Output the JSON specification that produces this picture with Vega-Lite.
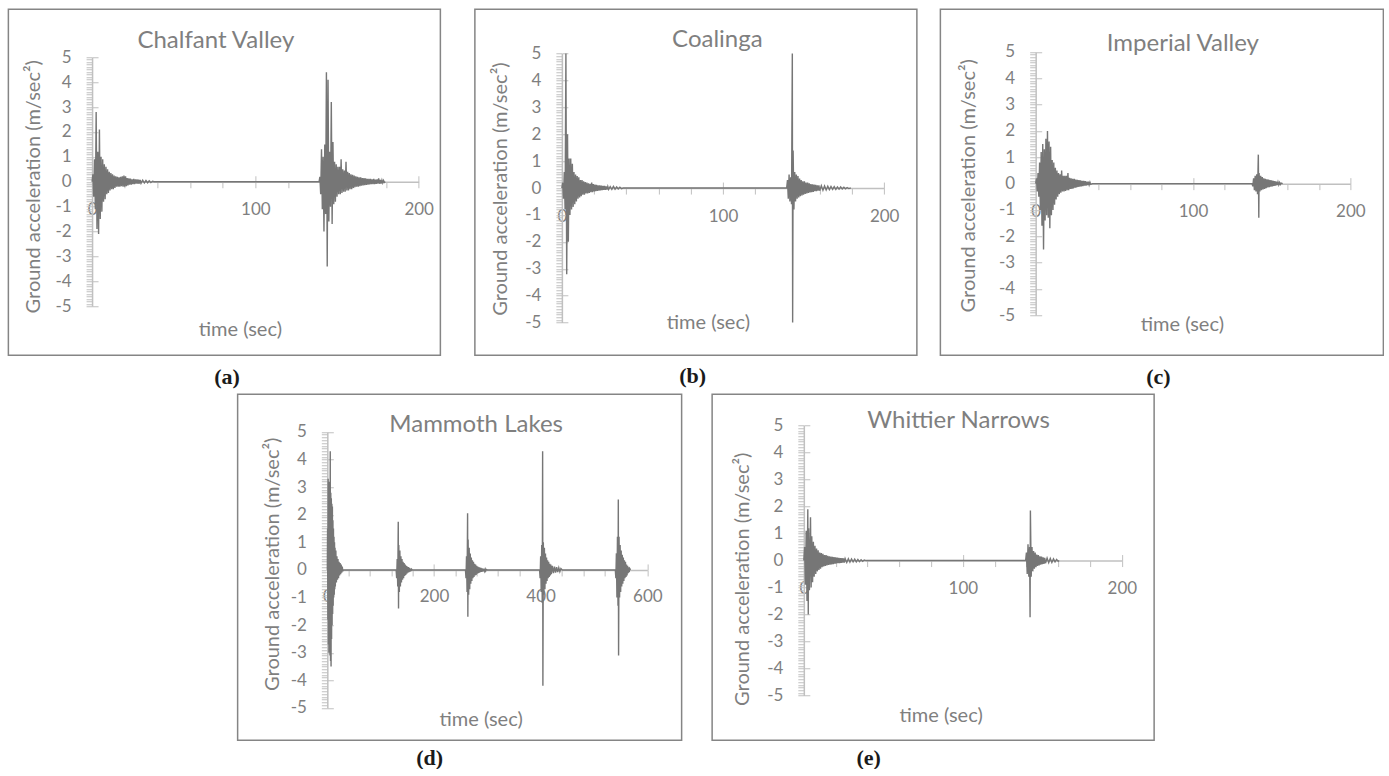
{
"$schema": "https://vega.github.io/schema/vega-lite/v6.json",
"background": "white",
"padding": {"left": 7.25, "top": 8.25, "right": 0, "bottom": 0},
"config": {
  "view": {"stroke": "#858585", "strokeWidth": 1.5},
  "title": {"font": "Lato", "fontSize": 24, "fontWeight": "normal", "color": "#7f7f7f", "baseline": "middle"},
  "axis": {"grid": false, "labelFont": "Lato", "labelFontSize": 17, "labelColor": "#7f7f7f", "titleFont": "Lato", "titleFontSize": 20, "titleFontWeight": "normal", "titleColor": "#7f7f7f", "domainColor": "#c0c0c0", "domainWidth": 1.5, "tickColor": "#c0c0c0", "tickWidth": 1, "labelFlush": false, "labelOverlap": false, "titleBaseline": "middle", "titleAlign": "center"}
},
"spacing": 4,
"center": true,
"vconcat": [
 {"spacing": 32.5, "hconcat": [
  {"title": {"text": "(a)", "orient": "bottom", "anchor": "middle", "offset": 21.3, "dx": 2.7, "font": "Liberation Serif", "fontSize": 22, "fontWeight": "bold", "color": "#1a1a1a", "baseline": "middle"},
   "vconcat": [
   {"width": 432, "height": 346,
    "title": {"text": "Chalfant Valley", "offset": -44, "dx": -8.5},
    "data": {"values": [{"t":0,"a":0},{"t":0.5,"a":0.3},{"t":1,"a":-0.6},{"t":1.5,"a":0.9},{"t":2,"a":-1.1},{"t":2.5,"a":2.8},{"t":3,"a":-1.9},{"t":3.5,"a":1.2},{"t":4,"a":-2.1},{"t":4.5,"a":2.1},{"t":5,"a":-1.5},{"t":5.5,"a":1},{"t":6,"a":-1.2},{"t":6.5,"a":0.9},{"t":7,"a":-0.8},{"t":7.5,"a":0.7},{"t":8,"a":-0.7},{"t":8.5,"a":0.6},{"t":9,"a":-0.5},{"t":9.5,"a":0.5},{"t":10,"a":-0.45},{"t":10.5,"a":0.4},{"t":11,"a":-0.35},{"t":11.5,"a":0.35},{"t":12,"a":-0.3},{"t":12.5,"a":0.3},{"t":13,"a":-0.3},{"t":13.5,"a":0.25},{"t":14,"a":-0.25},{"t":14.5,"a":0.22},{"t":15,"a":-0.2},{"t":15.5,"a":0.2},{"t":16,"a":-0.2},{"t":16.5,"a":0.18},{"t":17,"a":-0.2},{"t":17.5,"a":0.2},{"t":18,"a":-0.18},{"t":18.5,"a":0.22},{"t":19,"a":-0.2},{"t":19.5,"a":0.25},{"t":20,"a":-0.2},{"t":20.5,"a":0.22},{"t":21,"a":-0.18},{"t":21.5,"a":0.15},{"t":22,"a":-0.15},{"t":22.5,"a":0.14},{"t":23,"a":-0.12},{"t":23.5,"a":0.13},{"t":24,"a":-0.12},{"t":24.5,"a":0.1},{"t":25,"a":-0.1},{"t":25.5,"a":0.12},{"t":26,"a":-0.1},{"t":26.5,"a":0.1},{"t":27,"a":-0.08},{"t":27.5,"a":0.1},{"t":28,"a":-0.08},{"t":28.5,"a":0.08},{"t":29,"a":-0.07},{"t":29.5,"a":0.07},{"t":30,"a":-0.06},{"t":31,"a":0.06},{"t":32,"a":-0.05},{"t":33,"a":0.05},{"t":34,"a":-0.04},{"t":35,"a":0.04},{"t":36,"a":-0.03},{"t":37,"a":0.02},{"t":38,"a":0},{"t":139,"a":0},{"t":139.5,"a":0.2},{"t":140,"a":-0.5},{"t":140.5,"a":1.3},{"t":141,"a":-1.1},{"t":141.5,"a":1},{"t":142,"a":-2},{"t":142.5,"a":1.5},{"t":143,"a":-1.3},{"t":143.5,"a":4.4},{"t":144,"a":-3.4},{"t":144.5,"a":4.1},{"t":145,"a":-1.6},{"t":145.5,"a":1.2},{"t":146,"a":-1},{"t":146.5,"a":3.2},{"t":147,"a":-1.7},{"t":147.5,"a":1.6},{"t":148,"a":-0.9},{"t":148.5,"a":0.8},{"t":149,"a":-0.8},{"t":149.5,"a":0.7},{"t":150,"a":-0.6},{"t":150.5,"a":0.6},{"t":151,"a":-0.5},{"t":151.5,"a":0.6},{"t":152,"a":-0.5},{"t":152.5,"a":0.9},{"t":153,"a":-0.45},{"t":153.5,"a":0.5},{"t":154,"a":-0.4},{"t":154.5,"a":0.45},{"t":155,"a":-0.4},{"t":155.5,"a":0.8},{"t":156,"a":-0.35},{"t":156.5,"a":0.4},{"t":157,"a":-0.35},{"t":157.5,"a":0.35},{"t":158,"a":-0.3},{"t":158.5,"a":0.3},{"t":159,"a":-0.3},{"t":159.5,"a":0.28},{"t":160,"a":-0.25},{"t":160.5,"a":0.25},{"t":161,"a":-0.22},{"t":161.5,"a":0.22},{"t":162,"a":-0.2},{"t":162.5,"a":0.2},{"t":163,"a":-0.2},{"t":163.5,"a":0.18},{"t":164,"a":-0.18},{"t":164.5,"a":0.18},{"t":165,"a":-0.16},{"t":165.5,"a":0.15},{"t":166,"a":-0.15},{"t":166.5,"a":0.15},{"t":167,"a":-0.14},{"t":167.5,"a":0.14},{"t":168,"a":-0.13},{"t":168.5,"a":0.12},{"t":169,"a":-0.12},{"t":169.5,"a":0.12},{"t":170,"a":-0.11},{"t":170.5,"a":0.12},{"t":171,"a":-0.1},{"t":171.5,"a":0.1},{"t":172,"a":-0.1},{"t":172.5,"a":0.12},{"t":173,"a":-0.1},{"t":173.5,"a":0.09},{"t":174,"a":-0.09},{"t":174.5,"a":0.1},{"t":175,"a":-0.08},{"t":175.5,"a":0.14},{"t":176,"a":-0.08},{"t":176.5,"a":0.07},{"t":177,"a":-0.07},{"t":177.5,"a":0.06},{"t":178,"a":-0.05},{"t":178.5,"a":0.05},{"t":179,"a":-0.03},{"t":179.6,"a":0}]},
    "layer": [
     {"mark": {"type": "line", "color": "#767676", "strokeWidth": 1.4},
      "encoding": {
       "x": {"field": "t", "type": "quantitative", "scale": {"domain": [0, 200], "range": [83.7, 410.3], "nice": false, "zero": false},
             "axis": {"orient": "bottom", "offset": -173.5, "values": [0,20,40,60,80,100,120,140,160,180,200], "labelExpr": "datum.value % 100 == 0 ? datum.label : ''", "tickSize": 6, "labelPadding": 22, "labelBaseline": "middle", "title": "time (sec)", "titleX": 231.5, "titleY": 147.5}},
       "y": {"field": "a", "type": "quantitative", "scale": {"domain": [-5, 5], "range": [297, 48], "nice": false, "zero": false},
             "axis": {"orient": "left", "offset": -83.7, "values": [-5,-4.9,-4.8,-4.7,-4.6,-4.5,-4.4,-4.3,-4.2,-4.1,-4,-3.9,-3.8,-3.7,-3.6,-3.5,-3.4,-3.3,-3.2,-3.1,-3,-2.9,-2.8,-2.7,-2.6,-2.5,-2.4,-2.3,-2.2,-2.1,-2,-1.9,-1.8,-1.7,-1.6,-1.5,-1.4,-1.3,-1.2,-1.1,-1,-0.9,-0.8,-0.7,-0.6,-0.5,-0.4,-0.3,-0.2,-0.1,0,0.1,0.2,0.3,0.4,0.5,0.6,0.7,0.8,0.9,1,1.1,1.2,1.3,1.4,1.5,1.6,1.7,1.8,1.9,2,2.1,2.2,2.3,2.4,2.5,2.6,2.7,2.8,2.9,3,3.1,3.2,3.3,3.4,3.5,3.6,3.7,3.8,3.9,4,4.1,4.2,4.3,4.4,4.5,4.6,4.7,4.8,4.9,5], "labelExpr": "datum.value % 1 == 0 ? '' + datum.value : ''", "tickSize": 6, "labelPadding": 15, "title": "Ground acceleration (m/sec²)", "titleX": -58.7, "titleY": 177, "titleAngle": -90}}
      }},
     {"data": {"values": [{}]}, "mark": {"type": "point", "opacity": 0},
      "encoding": {
       "x": {"datum": 0, "type": "quantitative", "scale": {"domain": [0, 200], "range": [83.7, 410.3], "nice": false, "zero": false},
             "axis": {"orient": "bottom", "offset": -173.5, "values": [100, 200], "labels": false, "domain": false, "tickSize": -6, "title": null}},
       "y": {"datum": 0, "type": "quantitative", "scale": {"domain": [-5, 5], "range": [297, 48], "nice": false, "zero": false},
             "axis": {"orient": "left", "offset": -83.7, "values": [-5,-4,-3,-2,-1,0,1,2,3,4,5], "labels": false, "domain": false, "tickSize": -6, "title": null}}
      }}
    ],
    "resolve": {"axis": {"x": "independent", "y": "independent"}}
   }
  ]},
  {"spacing": 21.5, "hconcat": [
   {"title": {"text": "(b)", "orient": "bottom", "anchor": "middle", "offset": 20, "dx": -3.3, "font": "Liberation Serif", "fontSize": 22, "fontWeight": "bold", "color": "#1a1a1a", "baseline": "middle"},
    "vconcat": [
    {"width": 442, "height": 346,
     "title": {"text": "Coalinga", "offset": -42.6, "dx": 21.5},
     "data": {"values": [{"t":0,"a":0},{"t":0.5,"a":0.2},{"t":1,"a":-0.4},{"t":1.5,"a":0.6},{"t":2,"a":-0.8},{"t":2.5,"a":5},{"t":3,"a":-3.2},{"t":3.5,"a":2},{"t":4,"a":-2},{"t":4.5,"a":1.1},{"t":5,"a":-1},{"t":5.5,"a":1.1},{"t":6,"a":-0.8},{"t":6.5,"a":0.9},{"t":7,"a":-0.7},{"t":7.5,"a":0.6},{"t":8,"a":-0.6},{"t":8.5,"a":0.5},{"t":9,"a":-0.5},{"t":9.5,"a":0.45},{"t":10,"a":-0.4},{"t":10.5,"a":0.4},{"t":11,"a":-0.35},{"t":11.5,"a":0.3},{"t":12,"a":-0.3},{"t":12.5,"a":0.3},{"t":13,"a":-0.25},{"t":13.5,"a":0.25},{"t":14,"a":-0.25},{"t":14.5,"a":0.22},{"t":15,"a":-0.2},{"t":15.5,"a":0.2},{"t":16,"a":-0.2},{"t":16.5,"a":0.18},{"t":17,"a":-0.18},{"t":17.5,"a":0.16},{"t":18,"a":-0.15},{"t":18.5,"a":0.2},{"t":19,"a":-0.15},{"t":19.5,"a":0.15},{"t":20,"a":-0.13},{"t":20.5,"a":0.13},{"t":21,"a":-0.12},{"t":21.5,"a":0.12},{"t":22,"a":-0.11},{"t":22.5,"a":0.1},{"t":23,"a":-0.1},{"t":23.5,"a":0.1},{"t":24,"a":-0.09},{"t":24.5,"a":0.09},{"t":25,"a":-0.08},{"t":25.5,"a":0.08},{"t":26,"a":-0.07},{"t":26.5,"a":0.08},{"t":27,"a":-0.07},{"t":27.5,"a":0.06},{"t":28,"a":-0.06},{"t":28.5,"a":0.06},{"t":29,"a":-0.05},{"t":30,"a":0.05},{"t":31,"a":-0.05},{"t":32,"a":0.06},{"t":33,"a":-0.04},{"t":34,"a":0.04},{"t":35,"a":-0.03},{"t":36,"a":0.03},{"t":37,"a":-0.02},{"t":38,"a":0},{"t":139.5,"a":0},{"t":140,"a":0.3},{"t":140.5,"a":-0.4},{"t":141,"a":0.5},{"t":141.5,"a":-0.5},{"t":142,"a":0.4},{"t":142.5,"a":-0.6},{"t":143,"a":5},{"t":143.2,"a":-5},{"t":143.5,"a":1.4},{"t":144,"a":-0.8},{"t":144.5,"a":0.6},{"t":145,"a":-0.5},{"t":145.5,"a":0.5},{"t":146,"a":-0.4},{"t":146.5,"a":0.45},{"t":147,"a":-0.35},{"t":147.5,"a":0.35},{"t":148,"a":-0.3},{"t":148.5,"a":0.3},{"t":149,"a":-0.28},{"t":149.5,"a":0.25},{"t":150,"a":-0.25},{"t":150.5,"a":0.25},{"t":151,"a":-0.22},{"t":151.5,"a":0.2},{"t":152,"a":-0.2},{"t":152.5,"a":0.2},{"t":153,"a":-0.18},{"t":153.5,"a":0.18},{"t":154,"a":-0.16},{"t":154.5,"a":0.15},{"t":155,"a":-0.15},{"t":155.5,"a":0.14},{"t":156,"a":-0.14},{"t":156.5,"a":0.13},{"t":157,"a":-0.12},{"t":157.5,"a":0.12},{"t":158,"a":-0.12},{"t":158.5,"a":0.1},{"t":159,"a":-0.1},{"t":159.5,"a":0.1},{"t":160,"a":-0.1},{"t":161,"a":0.09},{"t":162,"a":-0.08},{"t":163,"a":0.08},{"t":164,"a":-0.07},{"t":165,"a":0.07},{"t":166,"a":-0.06},{"t":167,"a":0.06},{"t":168,"a":-0.05},{"t":169,"a":0.05},{"t":170,"a":-0.05},{"t":171,"a":0.04},{"t":172,"a":-0.04},{"t":173,"a":0.04},{"t":174,"a":-0.03},{"t":175,"a":0.03},{"t":176,"a":-0.03},{"t":177,"a":0.02},{"t":178,"a":-0.02},{"t":179.3,"a":0}]},
     "layer": [
      {"mark": {"type": "line", "color": "#767676", "strokeWidth": 1.4},
       "encoding": {
        "x": {"field": "t", "type": "quantitative", "scale": {"domain": [0, 200], "range": [87, 409.3], "nice": false, "zero": false},
              "axis": {"orient": "bottom", "offset": -167.2, "values": [0,20,40,60,80,100,120,140,160,180,200], "labelExpr": "datum.value % 100 == 0 ? datum.label : ''", "tickSize": 6, "labelPadding": 22, "labelBaseline": "middle", "title": "time (sec)", "titleX": 233, "titleY": 134.3}},
        "y": {"field": "a", "type": "quantitative", "scale": {"domain": [-5, 5], "range": [313.3, 44.3], "nice": false, "zero": false},
              "axis": {"orient": "left", "offset": -87, "values": [-5,-4.9,-4.8,-4.7,-4.6,-4.5,-4.4,-4.3,-4.2,-4.1,-4,-3.9,-3.8,-3.7,-3.6,-3.5,-3.4,-3.3,-3.2,-3.1,-3,-2.9,-2.8,-2.7,-2.6,-2.5,-2.4,-2.3,-2.2,-2.1,-2,-1.9,-1.8,-1.7,-1.6,-1.5,-1.4,-1.3,-1.2,-1.1,-1,-0.9,-0.8,-0.7,-0.6,-0.5,-0.4,-0.3,-0.2,-0.1,0,0.1,0.2,0.3,0.4,0.5,0.6,0.7,0.8,0.9,1,1.1,1.2,1.3,1.4,1.5,1.6,1.7,1.8,1.9,2,2.1,2.2,2.3,2.4,2.5,2.6,2.7,2.8,2.9,3,3.1,3.2,3.3,3.4,3.5,3.6,3.7,3.8,3.9,4,4.1,4.2,4.3,4.4,4.5,4.6,4.7,4.8,4.9,5], "labelExpr": "datum.value % 1 == 0 ? '' + datum.value : ''", "tickSize": 6, "labelPadding": 15, "title": "Ground acceleration (m/sec²)", "titleX": -61, "titleY": 179.3, "titleAngle": -90}}
       }},
      {"data": {"values": [{}]}, "mark": {"type": "point", "opacity": 0},
       "encoding": {
        "x": {"datum": 0, "type": "quantitative", "scale": {"domain": [0, 200], "range": [87, 409.3], "nice": false, "zero": false},
              "axis": {"orient": "bottom", "offset": -167.2, "values": [100, 200], "labels": false, "domain": false, "tickSize": -6, "title": null}},
        "y": {"datum": 0, "type": "quantitative", "scale": {"domain": [-5, 5], "range": [313.3, 44.3], "nice": false, "zero": false},
              "axis": {"orient": "left", "offset": -87, "values": [-5,-4,-3,-2,-1,0,1,2,3,4,5], "labels": false, "domain": false, "tickSize": -6, "title": null}}
       }}
     ],
     "resolve": {"axis": {"x": "independent", "y": "independent"}}
    }
   ]},
   {"title": {"text": "(c)", "orient": "bottom", "anchor": "middle", "offset": 21, "dx": -3.5, "font": "Liberation Serif", "fontSize": 22, "fontWeight": "bold", "color": "#1a1a1a", "baseline": "middle"},
    "vconcat": [
    {"width": 443, "height": 346,
     "title": {"text": "Imperial Valley", "offset": -46.6, "dx": 21},
     "data": {"values": [{"t":0,"a":0},{"t":0.5,"a":0.2},{"t":1,"a":-0.3},{"t":1.5,"a":0.4},{"t":2,"a":-0.5},{"t":2.5,"a":0.8},{"t":3,"a":-1},{"t":3.5,"a":1.2},{"t":4,"a":-1.6},{"t":4.5,"a":1.5},{"t":5,"a":-2.5},{"t":5.5,"a":1.3},{"t":6,"a":-1.4},{"t":6.5,"a":1.7},{"t":7,"a":-1.2},{"t":7.5,"a":2},{"t":8,"a":-1.3},{"t":8.5,"a":1.6},{"t":9,"a":-1.7},{"t":9.5,"a":1.4},{"t":10,"a":-1.2},{"t":10.5,"a":0.9},{"t":11,"a":-1},{"t":11.5,"a":0.8},{"t":12,"a":-0.8},{"t":12.5,"a":0.6},{"t":13,"a":-0.6},{"t":13.5,"a":0.5},{"t":14,"a":-0.5},{"t":14.5,"a":0.4},{"t":15,"a":-0.4},{"t":15.5,"a":0.35},{"t":16,"a":-0.35},{"t":16.5,"a":0.5},{"t":17,"a":-0.3},{"t":17.5,"a":0.3},{"t":18,"a":-0.3},{"t":18.5,"a":0.3},{"t":19,"a":-0.28},{"t":19.5,"a":0.3},{"t":20,"a":-0.25},{"t":20.5,"a":0.4},{"t":21,"a":-0.25},{"t":21.5,"a":0.22},{"t":22,"a":-0.2},{"t":22.5,"a":0.2},{"t":23,"a":-0.2},{"t":23.5,"a":0.18},{"t":24,"a":-0.18},{"t":24.5,"a":0.18},{"t":25,"a":-0.16},{"t":25.5,"a":0.15},{"t":26,"a":-0.15},{"t":26.5,"a":0.14},{"t":27,"a":-0.13},{"t":27.5,"a":0.13},{"t":28,"a":-0.12},{"t":28.5,"a":0.12},{"t":29,"a":-0.11},{"t":29.5,"a":0.1},{"t":30,"a":-0.1},{"t":30.5,"a":0.1},{"t":31,"a":-0.08},{"t":31.5,"a":0.09},{"t":32,"a":-0.08},{"t":32.5,"a":0.07},{"t":33,"a":-0.06},{"t":33.5,"a":0.07},{"t":34,"a":-0.05},{"t":34.5,"a":0.05},{"t":35,"a":-0.03},{"t":36,"a":0},{"t":137.5,"a":0},{"t":138,"a":-0.1},{"t":138.5,"a":0.2},{"t":139,"a":-0.25},{"t":139.5,"a":0.3},{"t":140,"a":-0.3},{"t":140.5,"a":0.35},{"t":141,"a":-0.4},{"t":141.5,"a":1.1},{"t":141.8,"a":-1.3},{"t":142,"a":0.4},{"t":142.5,"a":-0.3},{"t":143,"a":0.3},{"t":143.5,"a":-0.25},{"t":144,"a":0.25},{"t":144.5,"a":-0.22},{"t":145,"a":0.2},{"t":145.5,"a":-0.2},{"t":146,"a":0.18},{"t":146.5,"a":-0.17},{"t":147,"a":0.16},{"t":147.5,"a":-0.15},{"t":148,"a":0.15},{"t":148.5,"a":-0.14},{"t":149,"a":0.13},{"t":149.5,"a":-0.12},{"t":150,"a":0.12},{"t":150.5,"a":-0.11},{"t":151,"a":0.1},{"t":151.5,"a":-0.09},{"t":152,"a":0.09},{"t":152.5,"a":-0.08},{"t":153,"a":0.07},{"t":153.5,"a":-0.06},{"t":154,"a":0.06},{"t":154.5,"a":-0.05},{"t":155,"a":0.04},{"t":155.5,"a":-0.03},{"t":156,"a":0.02},{"t":157,"a":0}]},
     "layer": [
      {"mark": {"type": "line", "color": "#767676", "strokeWidth": 1.4},
       "encoding": {
        "x": {"field": "t", "type": "quantitative", "scale": {"domain": [0, 200], "range": [95.3, 410], "nice": false, "zero": false},
              "axis": {"orient": "bottom", "offset": -171.6, "values": [0,20,40,60,80,100,120,140,160,180,200], "labelExpr": "datum.value % 100 == 0 ? datum.label : ''", "tickSize": 6, "labelPadding": 22, "labelBaseline": "middle", "title": "time (sec)", "titleX": 241.5, "titleY": 140.6}},
        "y": {"field": "a", "type": "quantitative", "scale": {"domain": [-5, 5], "range": [306, 42.7], "nice": false, "zero": false},
              "axis": {"orient": "left", "offset": -95.3, "values": [-5,-4.9,-4.8,-4.7,-4.6,-4.5,-4.4,-4.3,-4.2,-4.1,-4,-3.9,-3.8,-3.7,-3.6,-3.5,-3.4,-3.3,-3.2,-3.1,-3,-2.9,-2.8,-2.7,-2.6,-2.5,-2.4,-2.3,-2.2,-2.1,-2,-1.9,-1.8,-1.7,-1.6,-1.5,-1.4,-1.3,-1.2,-1.1,-1,-0.9,-0.8,-0.7,-0.6,-0.5,-0.4,-0.3,-0.2,-0.1,0,0.1,0.2,0.3,0.4,0.5,0.6,0.7,0.8,0.9,1,1.1,1.2,1.3,1.4,1.5,1.6,1.7,1.8,1.9,2,2.1,2.2,2.3,2.4,2.5,2.6,2.7,2.8,2.9,3,3.1,3.2,3.3,3.4,3.5,3.6,3.7,3.8,3.9,4,4.1,4.2,4.3,4.4,4.5,4.6,4.7,4.8,4.9,5], "labelExpr": "datum.value % 1 == 0 ? '' + datum.value : ''", "tickSize": 6, "labelPadding": 15, "title": "Ground acceleration (m/sec²)", "titleX": -67.6, "titleY": 176, "titleAngle": -90}}
       }},
      {"data": {"values": [{}]}, "mark": {"type": "point", "opacity": 0},
       "encoding": {
        "x": {"datum": 0, "type": "quantitative", "scale": {"domain": [0, 200], "range": [95.3, 410], "nice": false, "zero": false},
              "axis": {"orient": "bottom", "offset": -171.6, "values": [100, 200], "labels": false, "domain": false, "tickSize": -6, "title": null}},
        "y": {"datum": 0, "type": "quantitative", "scale": {"domain": [-5, 5], "range": [306, 42.7], "nice": false, "zero": false},
              "axis": {"orient": "left", "offset": -95.3, "values": [-5,-4,-3,-2,-1,0,1,2,3,4,5], "labels": false, "domain": false, "tickSize": -6, "title": null}}
       }}
     ],
     "resolve": {"axis": {"x": "independent", "y": "independent"}}
    }
   ]}
  ]}
 ]},
 {"spacing": 28.5, "hconcat": [
  {"title": {"text": "(d)", "orient": "bottom", "anchor": "middle", "offset": 17, "dx": -30, "font": "Liberation Serif", "fontSize": 22, "fontWeight": "bold", "color": "#1a1a1a", "baseline": "middle"},
   "vconcat": [
   {"width": 444, "height": 346,
    "title": {"text": "Mammoth Lakes", "offset": -43, "dx": 16.5},
    "data": {"values": [{"t":0,"a":0},{"t":0.5,"a":1.5},{"t":1,"a":-1.8},{"t":1.5,"a":3.3},{"t":2,"a":-2.7},{"t":2.5,"a":3},{"t":3,"a":-3},{"t":3.5,"a":3.2},{"t":4,"a":-2.9},{"t":4.5,"a":3},{"t":5,"a":-3.1},{"t":5.5,"a":4.3},{"t":6,"a":-3.3},{"t":6.5,"a":2.8},{"t":7,"a":-3.5},{"t":7.5,"a":2.6},{"t":8,"a":-2.5},{"t":8.5,"a":2.4},{"t":9,"a":-2},{"t":9.5,"a":2.3},{"t":10,"a":-1.6},{"t":10.5,"a":1.8},{"t":11,"a":-1.3},{"t":11.5,"a":1.5},{"t":12,"a":-1},{"t":12.5,"a":1.2},{"t":13,"a":-0.9},{"t":13.5,"a":1},{"t":14,"a":-0.7},{"t":14.5,"a":0.8},{"t":15,"a":-0.6},{"t":16,"a":0.7},{"t":17,"a":-0.45},{"t":18,"a":0.5},{"t":19,"a":-0.35},{"t":20,"a":0.4},{"t":21,"a":-0.3},{"t":22,"a":0.3},{"t":23,"a":-0.2},{"t":24,"a":0.25},{"t":25,"a":-0.15},{"t":26,"a":0.2},{"t":27,"a":-0.1},{"t":28,"a":0.12},{"t":29,"a":-0.05},{"t":30,"a":0},{"t":129,"a":0},{"t":130,"a":-0.3},{"t":131,"a":0.4},{"t":132,"a":-0.6},{"t":133,"a":1.75},{"t":133.5,"a":-1.4},{"t":134,"a":0.9},{"t":135,"a":-0.8},{"t":136,"a":0.7},{"t":137,"a":-0.6},{"t":138,"a":0.5},{"t":139,"a":-0.45},{"t":140,"a":0.4},{"t":141,"a":-0.35},{"t":142,"a":0.3},{"t":143,"a":-0.3},{"t":144,"a":0.25},{"t":145,"a":-0.22},{"t":146,"a":0.2},{"t":147,"a":-0.18},{"t":148,"a":0.15},{"t":149,"a":-0.14},{"t":150,"a":0.12},{"t":151,"a":-0.1},{"t":152,"a":0.1},{"t":153,"a":-0.08},{"t":154,"a":0.08},{"t":155,"a":-0.06},{"t":156,"a":0.05},{"t":157,"a":-0.04},{"t":158,"a":0.03},{"t":159.4,"a":0},{"t":259,"a":0},{"t":260,"a":-0.3},{"t":261,"a":0.5},{"t":262,"a":-0.8},{"t":263,"a":2.05},{"t":263.5,"a":-1.7},{"t":264,"a":1.1},{"t":265,"a":-0.9},{"t":266,"a":0.8},{"t":267,"a":-0.7},{"t":268,"a":0.6},{"t":269,"a":-0.5},{"t":270,"a":0.45},{"t":271,"a":-0.4},{"t":272,"a":0.35},{"t":273,"a":-0.3},{"t":274,"a":0.3},{"t":275,"a":-0.25},{"t":276,"a":0.22},{"t":277,"a":-0.2},{"t":278,"a":0.2},{"t":279,"a":-0.18},{"t":280,"a":0.15},{"t":281,"a":-0.14},{"t":282,"a":0.12},{"t":283,"a":-0.12},{"t":284,"a":0.1},{"t":285,"a":-0.1},{"t":286,"a":0.09},{"t":287,"a":-0.08},{"t":288,"a":0.08},{"t":289,"a":-0.07},{"t":290,"a":0.06},{"t":291,"a":-0.06},{"t":292,"a":0.05},{"t":293,"a":-0.05},{"t":294,"a":0.04},{"t":295,"a":-0.04},{"t":296,"a":0.03},{"t":297,"a":-0.03},{"t":298,"a":0.02},{"t":300,"a":0},{"t":398,"a":0},{"t":399,"a":-0.3},{"t":400,"a":0.5},{"t":401,"a":-0.8},{"t":402,"a":0.9},{"t":403,"a":-1.2},{"t":403.7,"a":4.3},{"t":404.2,"a":-4.2},{"t":405,"a":1},{"t":406,"a":-0.9},{"t":407,"a":0.8},{"t":408,"a":-0.7},{"t":409,"a":0.6},{"t":410,"a":-0.5},{"t":411,"a":0.45},{"t":412,"a":-0.4},{"t":413,"a":0.35},{"t":414,"a":-0.3},{"t":415,"a":0.3},{"t":416,"a":-0.25},{"t":417,"a":0.22},{"t":418,"a":-0.2},{"t":419,"a":0.2},{"t":420,"a":-0.15},{"t":422,"a":0.15},{"t":424,"a":-0.12},{"t":426,"a":0.12},{"t":428,"a":-0.1},{"t":430,"a":0.1},{"t":432,"a":-0.08},{"t":434,"a":0.08},{"t":436,"a":-0.06},{"t":438,"a":0.05},{"t":440.6,"a":0},{"t":540,"a":0},{"t":541,"a":-0.3},{"t":542,"a":0.6},{"t":543,"a":-1},{"t":544,"a":1.2},{"t":545,"a":-1.3},{"t":545.6,"a":2.55},{"t":546.1,"a":-3.1},{"t":547,"a":1.2},{"t":548,"a":-1},{"t":549,"a":0.9},{"t":550,"a":-0.8},{"t":551,"a":0.7},{"t":552,"a":-0.6},{"t":553,"a":0.55},{"t":554,"a":-0.5},{"t":555,"a":0.45},{"t":556,"a":-0.4},{"t":557,"a":0.35},{"t":558,"a":-0.3},{"t":559,"a":0.3},{"t":560,"a":-0.25},{"t":561,"a":0.2},{"t":562,"a":-0.2},{"t":563,"a":0.15},{"t":564,"a":-0.12},{"t":565,"a":0.1},{"t":566,"a":-0.08},{"t":567,"a":0.05},{"t":568.6,"a":0}]},
    "layer": [
     {"mark": {"type": "line", "color": "#767676", "strokeWidth": 1.4},
      "encoding": {
       "x": {"field": "t", "type": "quantitative", "scale": {"domain": [0, 600], "range": [89.7, 409.7], "nice": false, "zero": false},
             "axis": {"orient": "bottom", "offset": -170.3, "values": [0,40,80,120,160,200,240,280,320,360,400,440,480,520,560,600], "labelExpr": "datum.value % 200 == 0 ? datum.label : ''", "tickSize": 6, "labelPadding": 21, "labelBaseline": "middle", "title": "time (sec)", "titleX": 243, "titleY": 150}},
       "y": {"field": "a", "type": "quantitative", "scale": {"domain": [-5, 5], "range": [313.7, 37.7], "nice": false, "zero": false},
             "axis": {"orient": "left", "offset": -89.7, "values": [-5,-4.9,-4.8,-4.7,-4.6,-4.5,-4.4,-4.3,-4.2,-4.1,-4,-3.9,-3.8,-3.7,-3.6,-3.5,-3.4,-3.3,-3.2,-3.1,-3,-2.9,-2.8,-2.7,-2.6,-2.5,-2.4,-2.3,-2.2,-2.1,-2,-1.9,-1.8,-1.7,-1.6,-1.5,-1.4,-1.3,-1.2,-1.1,-1,-0.9,-0.8,-0.7,-0.6,-0.5,-0.4,-0.3,-0.2,-0.1,0,0.1,0.2,0.3,0.4,0.5,0.6,0.7,0.8,0.9,1,1.1,1.2,1.3,1.4,1.5,1.6,1.7,1.8,1.9,2,2.1,2.2,2.3,2.4,2.5,2.6,2.7,2.8,2.9,3,3.1,3.2,3.3,3.4,3.5,3.6,3.7,3.8,3.9,4,4.1,4.2,4.3,4.4,4.5,4.6,4.7,4.8,4.9,5], "labelExpr": "datum.value % 1 == 0 ? '' + datum.value : ''", "tickSize": 6, "labelPadding": 15, "title": "Ground acceleration (m/sec²)", "titleX": -55, "titleY": 169.5, "titleAngle": -90}}
      }},
     {"data": {"values": [{}]}, "mark": {"type": "point", "opacity": 0},
      "encoding": {
       "x": {"datum": 0, "type": "quantitative", "scale": {"domain": [0, 600], "range": [89.7, 409.7], "nice": false, "zero": false},
             "axis": {"orient": "bottom", "offset": -170.3, "values": [200, 400, 600], "labels": false, "domain": false, "tickSize": -6, "title": null}},
       "y": {"datum": 0, "type": "quantitative", "scale": {"domain": [-5, 5], "range": [313.7, 37.7], "nice": false, "zero": false},
             "axis": {"orient": "left", "offset": -89.7, "values": [-5,-4,-3,-2,-1,0,1,2,3,4,5], "labels": false, "domain": false, "tickSize": -6, "title": null}}
      }}
    ],
    "resolve": {"axis": {"x": "independent", "y": "independent"}}
   }
  ]},
  {"title": {"text": "(e)", "orient": "bottom", "anchor": "middle", "offset": 17, "dx": -64.5, "font": "Liberation Serif", "fontSize": 22, "fontWeight": "bold", "color": "#1a1a1a", "baseline": "middle"},
   "vconcat": [
   {"width": 442, "height": 346,
    "title": {"text": "Whittier Narrows", "offset": -38.4, "dx": 25.5},
    "data": {"values": [{"t":0,"a":0},{"t":0.5,"a":0.5},{"t":1,"a":-0.9},{"t":1.5,"a":1.1},{"t":2,"a":-1.5},{"t":2.5,"a":1.9},{"t":2.8,"a":-2},{"t":3,"a":1.2},{"t":3.5,"a":-1.1},{"t":4.2,"a":1.6},{"t":4.6,"a":-1},{"t":5,"a":0.9},{"t":5.5,"a":-0.8},{"t":6,"a":0.7},{"t":6.5,"a":-0.6},{"t":7,"a":0.55},{"t":7.5,"a":-0.5},{"t":8,"a":0.45},{"t":8.5,"a":-0.4},{"t":9,"a":0.38},{"t":9.5,"a":-0.35},{"t":10,"a":0.3},{"t":10.5,"a":-0.3},{"t":11,"a":0.28},{"t":11.5,"a":-0.25},{"t":12,"a":0.25},{"t":12.5,"a":-0.22},{"t":13,"a":0.2},{"t":13.5,"a":-0.2},{"t":14,"a":0.2},{"t":14.5,"a":-0.18},{"t":15,"a":0.18},{"t":15.5,"a":-0.16},{"t":16,"a":0.16},{"t":16.5,"a":-0.15},{"t":17,"a":0.15},{"t":17.5,"a":-0.14},{"t":18,"a":0.14},{"t":18.5,"a":-0.13},{"t":19,"a":0.13},{"t":19.5,"a":-0.12},{"t":20,"a":0.12},{"t":20.5,"a":-0.11},{"t":21,"a":0.11},{"t":21.5,"a":-0.1},{"t":22,"a":0.1},{"t":22.5,"a":-0.1},{"t":23,"a":0.09},{"t":23.5,"a":-0.09},{"t":24,"a":0.09},{"t":24.5,"a":-0.08},{"t":25,"a":0.08},{"t":25.5,"a":-0.08},{"t":26,"a":0.07},{"t":27,"a":-0.07},{"t":28,"a":0.07},{"t":29,"a":-0.06},{"t":30,"a":0.06},{"t":31,"a":-0.05},{"t":32,"a":0.05},{"t":33,"a":-0.05},{"t":34,"a":0.04},{"t":35,"a":-0.04},{"t":36,"a":0.03},{"t":37,"a":-0.03},{"t":38,"a":0.02},{"t":39.2,"a":0},{"t":139.5,"a":0},{"t":140,"a":0.3},{"t":140.5,"a":-0.5},{"t":141,"a":0.6},{"t":141.5,"a":-0.6},{"t":142,"a":0.5},{"t":142.3,"a":-2.1},{"t":142.5,"a":1.85},{"t":143,"a":-0.6},{"t":143.5,"a":0.5},{"t":144,"a":-0.4},{"t":144.5,"a":0.35},{"t":145,"a":-0.3},{"t":145.5,"a":0.3},{"t":146,"a":-0.25},{"t":146.5,"a":0.22},{"t":147,"a":-0.2},{"t":147.5,"a":0.2},{"t":148,"a":-0.18},{"t":148.5,"a":0.16},{"t":149,"a":-0.15},{"t":149.5,"a":0.15},{"t":150,"a":-0.13},{"t":150.5,"a":0.12},{"t":151,"a":-0.12},{"t":151.5,"a":0.1},{"t":152,"a":-0.1},{"t":153,"a":0.09},{"t":154,"a":-0.08},{"t":155,"a":0.08},{"t":156,"a":-0.07},{"t":157,"a":0.06},{"t":158,"a":-0.05},{"t":159,"a":0.04},{"t":160,"a":-0.03},{"t":160.6,"a":0}]},
    "layer": [
     {"mark": {"type": "line", "color": "#767676", "strokeWidth": 1.4},
      "encoding": {
       "x": {"field": "t", "type": "quantitative", "scale": {"domain": [0, 200], "range": [91.7, 409.7], "nice": false, "zero": false},
             "axis": {"orient": "bottom", "offset": -179.7, "values": [0,20,40,60,80,100,120,140,160,180,200], "labelExpr": "datum.value % 100 == 0 ? datum.label : ''", "tickSize": 6, "labelPadding": 22, "labelBaseline": "middle", "title": "time (sec)", "titleX": 228.5, "titleY": 155}},
       "y": {"field": "a", "type": "quantitative", "scale": {"domain": [-5, 5], "range": [301.3, 31.3], "nice": false, "zero": false},
             "axis": {"orient": "left", "offset": -91.7, "values": [-5,-4.9,-4.8,-4.7,-4.6,-4.5,-4.4,-4.3,-4.2,-4.1,-4,-3.9,-3.8,-3.7,-3.6,-3.5,-3.4,-3.3,-3.2,-3.1,-3,-2.9,-2.8,-2.7,-2.6,-2.5,-2.4,-2.3,-2.2,-2.1,-2,-1.9,-1.8,-1.7,-1.6,-1.5,-1.4,-1.3,-1.2,-1.1,-1,-0.9,-0.8,-0.7,-0.6,-0.5,-0.4,-0.3,-0.2,-0.1,0,0.1,0.2,0.3,0.4,0.5,0.6,0.7,0.8,0.9,1,1.1,1.2,1.3,1.4,1.5,1.6,1.7,1.8,1.9,2,2.1,2.2,2.3,2.4,2.5,2.6,2.7,2.8,2.9,3,3.1,3.2,3.3,3.4,3.5,3.6,3.7,3.8,3.9,4,4.1,4.2,4.3,4.4,4.5,4.6,4.7,4.8,4.9,5], "labelExpr": "datum.value % 1 == 0 ? '' + datum.value : ''", "tickSize": 6, "labelPadding": 15, "title": "Ground acceleration (m/sec²)", "titleX": -61, "titleY": 184.5, "titleAngle": -90}}
      }},
     {"data": {"values": [{}]}, "mark": {"type": "point", "opacity": 0},
      "encoding": {
       "x": {"datum": 0, "type": "quantitative", "scale": {"domain": [0, 200], "range": [91.7, 409.7], "nice": false, "zero": false},
             "axis": {"orient": "bottom", "offset": -179.7, "values": [100, 200], "labels": false, "domain": false, "tickSize": -6, "title": null}},
       "y": {"datum": 0, "type": "quantitative", "scale": {"domain": [-5, 5], "range": [301.3, 31.3], "nice": false, "zero": false},
             "axis": {"orient": "left", "offset": -91.7, "values": [-5,-4,-3,-2,-1,0,1,2,3,4,5], "labels": false, "domain": false, "tickSize": -6, "title": null}}
      }}
    ],
    "resolve": {"axis": {"x": "independent", "y": "independent"}}
   }
  ]}
 ]}
]
}
